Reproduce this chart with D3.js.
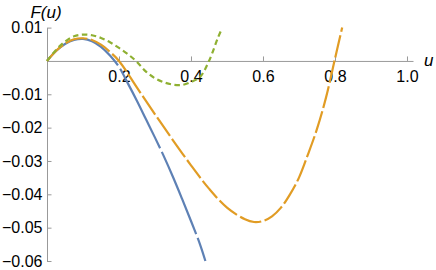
<!DOCTYPE html>
<html lang="en">
<head>
    <meta charset="UTF-8">
    <title>F(u)</title>
    <script src="https://cdn.jsdelivr.net/npm/d3@7"></script>
    <style>
        html, body {
            padding: 0;
            margin: 0;
            background: #fff;
        }
        svg text {
            font-family: "Liberation Sans", Arial, sans-serif;
        }
    </style>
</head>
<body>
<script>
// curves: u values and F(u) values
const blueU   = [0, 0.025, 0.05, 0.075, 0.1, 0.125, 0.15, 0.175, 0.2, 0.225, 0.25, 0.275, 0.3, 0.325, 0.35, 0.375, 0.4, 0.425, 0.44]
const blueF   = [0, 0.0030, 0.0051, 0.0063, 0.0066, 0.0059, 0.0042, 0.0016, -0.0018, -0.0068, -0.0120, -0.0175, -0.0230, -0.0287, -0.0348, -0.0413, -0.0480, -0.0550, -0.0600]

const orangeU = [0, 0.025, 0.05, 0.075, 0.1, 0.125, 0.15, 0.175, 0.2, 0.25, 0.3, 0.35, 0.4, 0.45, 0.5, 0.55, 0.575, 0.6, 0.625, 0.65, 0.675, 0.7, 0.725, 0.75, 0.775, 0.8, 0.82]
const orangeF = [0, 0.0030, 0.0052, 0.0065, 0.0068, 0.0063, 0.0049, 0.0027, 0.0000, -0.0080, -0.0160, -0.0238, -0.0313, -0.0383, -0.0440, -0.0475, -0.0483, -0.0480, -0.0466, -0.0440, -0.0400, -0.0350, -0.0280, -0.0204, -0.0110, 0.0007, 0.0100]

const greenU  = [0, 0.025, 0.05, 0.075, 0.1, 0.125, 0.15, 0.175, 0.2, 0.225, 0.25, 0.275, 0.3, 0.325, 0.35, 0.375, 0.4, 0.425, 0.45, 0.475, 0.485]
const greenF  = [0, 0.0033, 0.0058, 0.0074, 0.0079, 0.0077, 0.0069, 0.0056, 0.0039, 0.0020, -0.0003, -0.0032, -0.0052, -0.0064, -0.0071, -0.0072, -0.0063, -0.0048, 0.0000, 0.0070, 0.0095]

// tick values
const xTicks = [0.2, 0.4, 0.6, 0.8, 1.0]
const xMinor = d3.range(0.05, 1.01, 0.05)
const yTicks = [0.01, -0.01, -0.02, -0.03, -0.04, -0.05, -0.06]
const yMinor = d3.range(-0.06, 0.0101, 0.002)

const W = 436, H = 270
const axisColor = '#999'

const svg = d3.select('body')
    .append('svg')
    .attr('width', W)
    .attr('height', H)

const x = d3.scaleLinear().domain([0, 1.0167]).range([47, 413])
const y = d3.scaleLinear().domain([-0.06, 0.01]).range([261, 27.6])

//x 轴: ticks point up, labels below
const gx = svg.append('g').attr('transform', `translate(0,${y(0)})`)
gx.call(d3.axisBottom(x).tickValues(xMinor).tickSizeInner(-2.5).tickSizeOuter(0).tickFormat(''))
gx.call(d3.axisBottom(x).tickValues(xTicks).tickSizeInner(-4.5).tickSizeOuter(0)
    .tickPadding(9.5).tickFormat(d3.format('.1f')))

//y 轴: ticks point right
const gy = svg.append('g').attr('transform', `translate(${x(0)},0)`)
gy.call(d3.axisLeft(y).tickValues(yMinor).tickSizeInner(-2.5).tickSizeOuter(0).tickFormat(''))
gy.call(d3.axisLeft(y).tickValues(yTicks).tickSizeInner(-4.5).tickSizeOuter(0)
    .tickPadding(4.5).tickFormat(d3.format('.2f')))

svg.selectAll('.domain, .tick line')
    .attr('stroke', axisColor)
    .attr('stroke-width', 1)
svg.selectAll('.tick text')
    .attr('font-size', 16)
    .attr('fill', '#000')

// axis labels
svg.append('text')
    .attr('x', 424)
    .attr('y', 66)
    .attr('font-size', 17)
    .attr('font-style', 'italic')
    .text('u')

svg.append('text')
    .attr('x', 46)
    .attr('y', 18)
    .attr('text-anchor', 'middle')
    .attr('font-size', 17)
    .attr('font-style', 'italic')
    .text('F(u)')

// curves
const series = [
    {u: blueU, f: blueF, color: '#5E81B5', dash: '89,4'},
    {u: orangeU, f: orangeF, color: '#E19C24', dash: '22.5,3.5'},
    {u: greenU, f: greenF, color: '#8FB032', dash: '5.5,3.5'}
]

const line = d3.line()
    .x(d => x(d[0]))
    .y(d => y(d[1]))
    .curve(d3.curveCatmullRom.alpha(0.5))

svg.selectAll('path.curve')
    .data(series)
    .join('path')
    .attr('class', 'curve')
    .attr('d', s => line(s.u.map((u, i) => [u, s.f[i]])))
    .attr('fill', 'none')
    .attr('stroke', s => s.color)
    .attr('stroke-width', 2.2)
    .attr('stroke-dasharray', s => s.dash)
</script>
</body>
</html>
